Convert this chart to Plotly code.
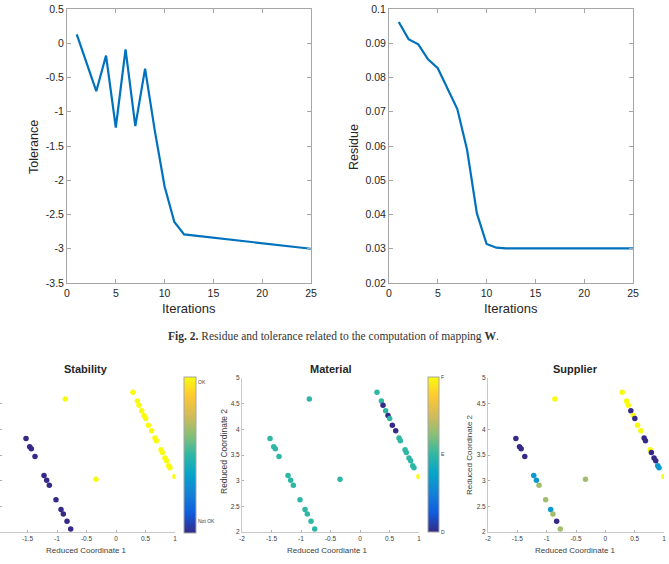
import plotly.graph_objects as go

# ---------------- data ----------------
iter_tol = [1, 2, 3, 4, 5, 6, 7, 8, 9, 10, 11, 12, 25]
tolerance = [0.13, -0.28, -0.70, -0.18, -1.23, -0.09, -1.21, -0.37, -1.28, -2.09, -2.61, -2.79, -3.00]

iter_res = [1, 2, 3, 4, 5, 6, 7, 8, 9, 10, 11, 12, 25]
residue = [0.0962, 0.0912, 0.0897, 0.0853, 0.0827, 0.0769, 0.0708, 0.0589, 0.0404, 0.0314, 0.0303, 0.0301, 0.0301]

tol_ticks = [0.5, 0, -0.5, -1, -1.5, -2, -2.5, -3, -3.5]
tol_ticktext = ["0.5", "0", "-0.5", "-1", "-1.5", "-2", "-2.5", "-3", "-3.5"]
res_ticks = [0.1, 0.09, 0.08, 0.07, 0.06, 0.05, 0.04, 0.03, 0.02]
res_ticktext = ["0.1", "0.09", "0.08", "0.07", "0.06", "0.05", "0.04", "0.03", "0.02"]
iter_ticks = [0, 5, 10, 15, 20, 25]

coord1 = [-1.525, -1.463, -1.435, -1.373, -1.22, -1.175, -1.13, -1.017, -0.932, -0.893, -0.83, -0.768,
          -0.859, -0.339, 1.0,
          0.288, 0.362, 0.39, 0.435, 0.475, 0.503, 0.548, 0.605, 0.661, 0.684, 0.763, 0.785, 0.83, 0.859, 0.893, 0.915]
coord2 = [3.82, 3.66, 3.62, 3.47, 3.10, 3.01, 2.91, 2.63, 2.44, 2.35, 2.21, 2.06,
          4.59, 3.03, 3.08,
          4.72, 4.55, 4.47, 4.36, 4.27, 4.21, 4.08, 3.97, 3.83, 3.78, 3.60, 3.55, 3.44, 3.39, 3.29, 3.25]

stability = [0] * 12 + [1, 1, 1] + [1] * 16
material = [1] * 12 + [1, 1, 2] + [1, 1, 0, 1, 0, 1, 0, 0, 1, 1, 1, 1, 1, 1, 1, 1]
supplier = [0, 0, 0, 0, 1, 1, 2, 2, 1, 2, 0, 2] + [3, 2, 3] + [3, 3, 3, 0, 3, 0, 3, 3, 0, 0, 3, 0, 0, 0, 1, 1]

stab_labels = ["Not OK", "OK"]
mat_labels = ["D", "E", "F"]

coord_ticks_x = [-2, -1.5, -1, -0.5, 0, 0.5, 1]
coord_ticktext_x = ["-2", "-1.5", "-1", "-0.5", "0", "0.5", "1"]
coord_ticks_y = [2, 2.5, 3, 3.5, 4, 4.5, 5]
coord_ticktext_y = ["2", "2.5", "3", "3.5", "4", "4.5", "5"]

# ---------------- styling ----------------
W, H = 669, 564
FONT = "Liberation Sans, Arial, sans-serif"
BLUE = "#0072BD"
TXT = "#262626"
parula = [[0.0, "#352a87"], [0.125, "#0f5cdd"], [0.25, "#1481d6"], [0.375, "#06a4ca"],
          [0.5, "#2eb7a4"], [0.625, "#87bf77"], [0.75, "#d1bb59"], [0.875, "#fec832"], [1.0, "#f9fb0e"]]


def px_x(p):
    return p / W


def px_y(p):
    return 1 - p / H


fig = go.Figure()

fig.add_trace(go.Scatter(x=iter_tol, y=tolerance, mode="lines", line=dict(color=BLUE, width=2.2),
                         xaxis="x", yaxis="y", showlegend=False))
fig.add_trace(go.Scatter(x=iter_res, y=residue, mode="lines", line=dict(color=BLUE, width=2.2),
                         xaxis="x2", yaxis="y2", showlegend=False))

mk = dict(size=5.5, line=dict(width=0))
fig.add_trace(go.Scatter(x=coord1, y=coord2, mode="markers", xaxis="x3", yaxis="y3", showlegend=False,
                         marker=dict(color=stability, coloraxis="coloraxis", **mk)))
fig.add_trace(go.Scatter(x=coord1, y=coord2, mode="markers", xaxis="x4", yaxis="y4", showlegend=False,
                         marker=dict(color=material, coloraxis="coloraxis2", **mk)))
fig.add_trace(go.Scatter(x=coord1, y=coord2, mode="markers", xaxis="x5", yaxis="y5", showlegend=False,
                         marker=dict(color=supplier, coloraxis="coloraxis3", **mk)))

top_ax = dict(showgrid=False, zeroline=False, showline=True, linecolor="#a6a6a6", linewidth=1,
              mirror="ticks", ticks="inside", ticklen=4, tickcolor="#a6a6a6",
              tickfont=dict(family=FONT, size=10.5, color=TXT), automargin=False)
bot_ax = dict(showgrid=False, zeroline=False, showline=True, linecolor="#c8c8c8", linewidth=1,
              mirror=False, ticks="inside", ticklen=2, tickcolor="#b0b0b0",
              tickfont=dict(family=FONT, size=6.5, color="#404040"), automargin=False)

ytop = [px_y(283), px_y(9)]
ybot = [px_y(532), px_y(378)]

fig.update_layout(
    width=W, height=H, margin=dict(l=0, r=0, t=0, b=0),
    paper_bgcolor="white", plot_bgcolor="white",
    xaxis=dict(domain=[px_x(67), px_x(311)], range=[0, 25], tickvals=iter_ticks, anchor="y", **top_ax),
    yaxis=dict(domain=ytop, range=[-3.5, 0.5], tickvals=tol_ticks, ticktext=tol_ticktext, anchor="x", **top_ax),
    xaxis2=dict(domain=[px_x(389), px_x(633)], range=[0, 25], tickvals=iter_ticks, anchor="y2", **top_ax),
    yaxis2=dict(domain=ytop, range=[0.02, 0.1], tickvals=res_ticks, ticktext=res_ticktext, anchor="x2", **top_ax),
    xaxis3=dict(domain=[0, px_x(175)], range=[-1.966, 1], tickvals=coord_ticks_x, ticktext=coord_ticktext_x,
                anchor="y3", **bot_ax),
    yaxis3=dict(domain=ybot, range=[2, 5], tickvals=coord_ticks_y, ticktext=coord_ticktext_y,
                showticklabels=False, anchor="x3", **bot_ax),
    xaxis4=dict(domain=[px_x(242), px_x(419)], range=[-2, 1], tickvals=coord_ticks_x, ticktext=coord_ticktext_x,
                anchor="y4", **bot_ax),
    yaxis4=dict(domain=ybot, range=[2, 5], tickvals=coord_ticks_y, ticktext=coord_ticktext_y, anchor="x4", **bot_ax),
    xaxis5=dict(domain=[px_x(488), px_x(664)], range=[-2, 1], tickvals=coord_ticks_x, ticktext=coord_ticktext_x,
                anchor="y5", **bot_ax),
    yaxis5=dict(domain=ybot, range=[2, 5], tickvals=coord_ticks_y, ticktext=coord_ticktext_y, anchor="x5", **bot_ax),
    coloraxis=dict(colorscale=parula, cmin=0, cmax=1,
                   colorbar=dict(x=px_x(184), xanchor="left", xpad=0, y=px_y(533), yanchor="bottom", ypad=0,
                                 len=156 / H, lenmode="fraction", thickness=12, thicknessmode="pixels",
                                 outlinewidth=1, outlinecolor="#a6a6a6", tickvals=[0.077, 0.966],
                                 ticktext=stab_labels, ticks="", tickfont=dict(family=FONT, size=5, color="#404040"))),
    coloraxis2=dict(colorscale=parula, cmin=0, cmax=2,
                    colorbar=dict(x=px_x(428), xanchor="left", xpad=0, y=px_y(532), yanchor="bottom", ypad=0,
                                  len=155 / H, lenmode="fraction", thickness=11, thicknessmode="pixels",
                                  outlinewidth=1, outlinecolor="#a6a6a6", tickvals=[0, 1, 2],
                                  ticktext=mat_labels, ticks="", tickfont=dict(family=FONT, size=5, color="#404040"))),
    coloraxis3=dict(colorscale=parula, cmin=0, cmax=3, showscale=False),
)

ann = []


def add_text(text, x, y, size, color=TXT, angle=0, family=FONT):
    ann.append(dict(text=text, x=px_x(x), y=px_y(y), xref="paper", yref="paper", showarrow=False,
                    xanchor="center", yanchor="middle", textangle=angle,
                    font=dict(family=family, size=size, color=color)))


add_text("Tolerance", 34, 147, 12.5, angle=-90)
add_text("Residue", 354, 147, 12.5, angle=-90)
add_text("Iterations", 189, 308, 13)
add_text("Iterations", 511, 308, 13)
add_text("<b>Fig. 2.</b> Residue and tolerance related to the computation of mapping <b>W</b>.",
         333, 337, 11.5, color="#333333", family="Liberation Serif, serif")
add_text("<b>Stability</b>", 86, 369, 11)
add_text("<b>Material</b>", 331, 369, 11)
add_text("<b>Supplier</b>", 575, 369, 11)
add_text("Reduced Coordinate 1", 86, 550, 8, color="#404040")
add_text("Reduced Coordiante 1", 327, 550, 8, color="#404040")
add_text("Reduced Coordinate 1", 575, 550, 8, color="#404040")
add_text("Reduced Coordinate 2", 224, 452, 8.5, color="#404040", angle=-90)
add_text("Reduced Coordinate 2", 469, 455, 8, color="#404040", angle=-90)

fig.update_layout(annotations=ann)
fig.write_html("out.html")
